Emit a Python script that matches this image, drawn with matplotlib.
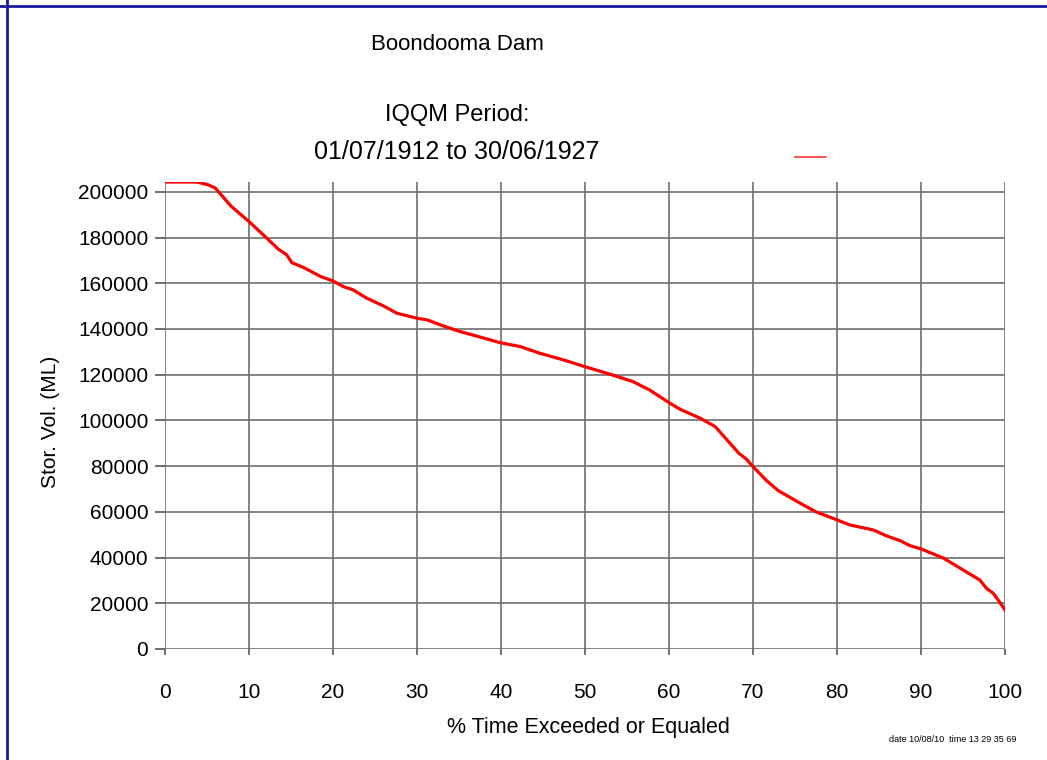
import matplotlib
matplotlib.use('Agg')
from matplotlib import pyplot as plt
from matplotlib.lines import Line2D

plt.rcParams['font.family'] = ['Liberation Sans', 'DejaVu Sans']

# percent of time exceeded or equaled, storage volume (ML)
pct_time = [0, 3.8, 5.2, 6.0, 7.9, 10.0, 11.9, 13.5, 14.5, 15.1, 16.5, 18.5, 20.0,
            21.2, 22.4, 24.0, 26.0, 27.6, 30.0, 31.2, 33.0, 35.0, 37.0, 39.9,
            42.3, 44.6, 47.4, 50.0, 52.9, 55.7, 57.7, 60.0, 61.3, 63.7, 65.5,
            66.9, 68.3, 69.2, 70.0, 71.6, 73.0, 75.6, 77.5, 80.0, 81.5, 84.3,
            85.9, 87.5, 88.7, 90.0, 92.7, 95.0, 97.0, 97.8, 98.6, 99.4, 100.0]
storage = [204300, 204300, 203000, 201600, 193600, 187000, 180500, 174900, 172400,
           169000, 166900, 163000, 161000, 158600, 157100, 153500, 150100, 146900,
           144700, 144000, 141500, 139000, 137000, 134000, 132300, 129400, 126500,
           123500, 120300, 117000, 113300, 107800, 104900, 101000, 97300, 91500,
           85700, 83100, 79800, 73700, 69300, 63800, 60000, 56500, 54300, 52100,
           49500, 47400, 45200, 43800, 39700, 34600, 30200, 26500, 24400, 20300,
           17100]

x_ticks = list(range(0, 101, 10))
y_ticks = list(range(0, 200001, 20000))

fig = plt.figure(figsize=(10.47, 7.6), dpi=100)
ax = fig.add_axes([165 / 1047, 1 - 649 / 760, 840 / 1047, 467 / 760])

ax.plot(pct_time, storage, color='#ff0000', lw=2.3, zorder=3)

ax.set_xlim(0, 100)
ax.set_ylim(0, max(storage))
ax.set_xticks(x_ticks)
ax.set_yticks(y_ticks)
ax.grid(True, color='#6e6e6e', lw=1.2)
for s in ax.spines.values():
    s.set_visible(False)
ax.tick_params(axis='y', direction='out', length=7, width=1.2, color='#555555',
               pad=5, labelsize=15)
ax.tick_params(axis='x', direction='out', length=4.5, width=1.2, color='#555555',
               pad=20, labelsize=15)

fig.text(50 / 1047, 1 - 422 / 760, 'Stor. Vol. (ML)', rotation=90, fontsize=15,
         ha='center', va='center')
fig.text(588 / 1047, 1 - 728 / 760, '% Time Exceeded or Equaled', fontsize=15.5,
         ha='center', va='center')
fig.text(457 / 1047, 1 - 44 / 760, 'Boondooma Dam', fontsize=16,
         ha='center', va='center')
fig.text(457 / 1047, 1 - 115 / 760, 'IQQM Period:', fontsize=17,
         ha='center', va='center')
fig.text(457 / 1047, 1 - 152 / 760, '01/07/1912 to 30/06/1927', fontsize=18,
         ha='center', va='center')
fig.text(953 / 1047, 1 - 739 / 760, 'date 10/08/10  time 13 29 35 69', fontsize=6.5,
         ha='center', va='center')

# legend sample line
fig.add_artist(Line2D([795 / 1047, 826 / 1047], [1 - 157 / 760, 1 - 157 / 760],
                      color='#ff3333', lw=1.2, transform=fig.transFigure))

# page border (top and left)
fig.add_artist(Line2D([0, 1], [1 - 6 / 760, 1 - 6 / 760], color='#1a1aa0', lw=2,
                      transform=fig.transFigure))
fig.add_artist(Line2D([7 / 1047, 7 / 1047], [0, 1], color='#1a1aa0', lw=2,
                      transform=fig.transFigure))

fig.savefig('out.png', dpi=100)
